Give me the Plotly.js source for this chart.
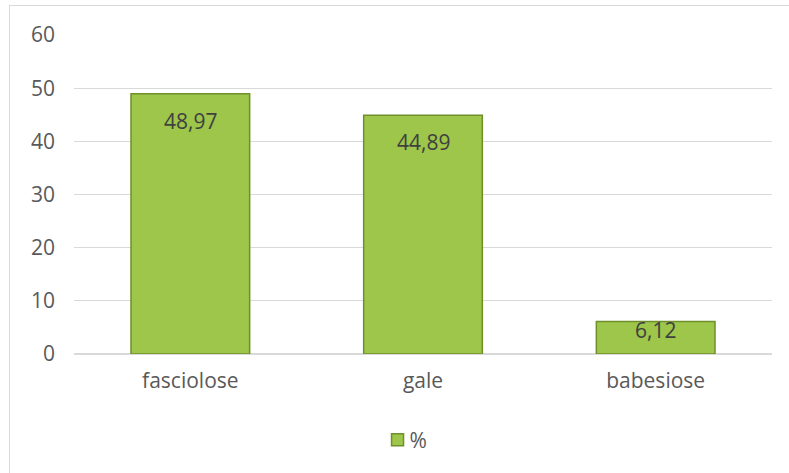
<!DOCTYPE html>
<html>
<head>
<meta charset="utf-8">
<script src="https://cdn.plot.ly/plotly-3.0.1.min.js"></script>
<style>
html,body{margin:0;padding:0;background:#fff;overflow:hidden;}
#wrap{position:relative;width:789px;height:473px;}
#frame{position:absolute;left:9px;top:5px;width:800px;height:500px;border:1.5px solid #d9d9d9;box-sizing:border-box;}
#chart{position:absolute;left:0;top:0;width:789px;height:473px;}
</style>
</head>
<body>
<div id="wrap"><div id="frame"></div><div id="chart"></div></div>
<script>
const categories = ["fasciolose", "gale", "babesiose"];
const values = [48.97, 44.89, 6.12];
const valueLabels = ["48,97", "44,89", "6,12"];
const seriesName = "%";
const yTicks = [0, 10, 20, 30, 40, 50, 60];

const font = "Open Sans, Lato, sans-serif";

const trace = {
  type: "bar",
  x: categories,
  y: values,
  name: seriesName,
  marker: {color: "#9dc64b", line: {color: "#6f8f2a", width: 1.5}},
  hoverinfo: "none",
  showlegend: true
};

const annotations = categories.map((c, i) => ({
  x: c, y: values[i], xref: "x", yref: "y",
  text: valueLabels[i], showarrow: false,
  yanchor: "top", yshift: values[i] > 10 ? -11 : 7,
  font: {family: font, size: 21, color: "#404040"}
}));

const layout = {
  width: 789, height: 473,
  margin: {l: 74, r: 17, t: 35, b: 119},
  paper_bgcolor: "rgba(0,0,0,0)",
  plot_bgcolor: "rgba(0,0,0,0)",
  bargap: 0.49,
  font: {family: font, size: 21, color: "#595959"},
  xaxis: {
    type: "category", showgrid: false, showline: false, ticks: "",
    ticklabelstandoff: 12,
    tickfont: {family: font, size: 21, color: "#595959"}
  },
  yaxis: {
    range: [0, 60], tickvals: yTicks, showgrid: true, gridcolor: "#d9d9d9", gridwidth: 1.2,
    zeroline: true, zerolinecolor: "#d9d9d9", zerolinewidth: 1.5,
    showline: false, ticks: "", ticklabelstandoff: 18,
    tickfont: {family: font, size: 21, color: "#595959"}
  },
  legend: {
    orientation: "h", x: 0.48, xanchor: "center", y: -0.27, yanchor: "middle",
    font: {family: font, size: 21, color: "#595959"},
    itemwidth: 30
  },
  annotations: annotations
};

Plotly.newPlot("chart", [trace], layout, {displayModeBar: false, staticPlot: true}).then(gd => {
  gd.querySelectorAll(".legendtext").forEach(t => t.setAttribute("x", "32"));
});
</script>
</body>
</html>
